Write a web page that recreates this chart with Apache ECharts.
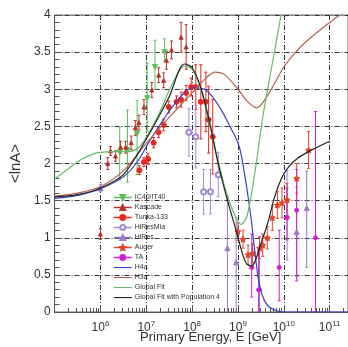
<!DOCTYPE html>
<html><head><meta charset="utf-8">
<script src="https://cdn.jsdelivr.net/npm/echarts@6/dist/echarts.min.js"></script>
<style>html,body{margin:0;padding:0;background:#fff}#c{width:348px;height:347px}</style>
</head><body><div id="c"></div>
<script>
// ---- axis ticks (log10 of energy in GeV) ----
const xTicks = [6, 7, 8, 9, 10, 11];
const yTicks = [0, 0.5, 1, 1.5, 2, 2.5, 3, 3.5, 4];

// ---- model curves: log10(E/GeV) and <lnA> ----
const h4aE = [5.0,5.5,6.0,6.5,6.8,7.1,7.45,7.75,8.0,8.3,8.6,8.85,9.0,9.07,9.19,9.29,9.38,9.47,9.6,9.75,10.0,11.4];
const h4aA = [1.53,1.57,1.66,1.82,2.02,2.33,2.66,2.9,3.02,2.99,2.76,2.47,2.28,2.12,1.68,1.24,0.75,0.36,0.13,0.04,0.0,0.0];
const h3aE = [5.0,5.5,6.0,6.5,7.0,7.5,8.0,8.3,8.5,8.72,9.0,9.2,9.41,9.6,9.8,10.0,10.26,10.5,11.0,11.22];
const h3aA = [1.56,1.6,1.69,1.9,2.27,2.62,2.95,3.15,3.23,3.19,3.0,2.84,2.75,2.87,3.08,3.3,3.5,3.65,3.9,4.0];
const gfE  = [5.0,5.3,5.6,5.85,6.0,6.3,6.6,6.8,7.0,7.3,7.55,7.83,8.0,8.2,8.4,8.55,8.75,8.95,9.07,9.2,9.35,9.54,9.75,9.94];
const gfA  = [1.79,1.93,2.06,2.13,2.15,2.16,2.16,2.2,2.35,2.7,3.05,3.31,3.27,2.98,2.48,2.08,1.6,1.28,1.18,1.3,1.8,2.62,3.35,4.0];
const gf4E = [5.0,5.5,6.0,6.5,7.0,7.5,7.83,8.0,8.2,8.4,8.55,8.75,8.95,9.1,9.2,9.3,9.5,9.65,9.8,9.95,10.1,10.3,10.6,11.0];
const gf4A = [1.55,1.58,1.67,1.85,2.33,2.9,3.34,3.29,3.0,2.5,2.05,1.55,1.12,0.78,0.64,0.62,0.92,1.2,1.55,1.8,1.95,2.07,2.18,2.3];

// ---- measurements: log10(E), <lnA>, error down, error up ----
const icE  = [6.42,6.59,6.8,7.02,7.19,7.4];
const icA  = [2.15,2.18,2.4,2.88,3.3,3.5];
const icLo = [0.37,0.43,0.55,0.45,0.3,0.12];
const icHi = [0.34,0.54,0.45,0.47,0.36,0.18];

const kaE  = [6.0,6.16,6.22,6.33,6.44,6.55,6.67,6.76,6.84,6.95,7.12,7.27,7.38,7.44,7.55,7.76,7.87];
const kaA  = [1.05,2.0,2.17,2.1,2.22,2.22,2.28,2.48,2.55,2.76,2.99,3.19,3.12,3.39,3.53,3.7,3.57];
const kaEr = [0.07,0.08,0.06,0.07,0.08,0.08,0.09,0.1,0.1,0.1,0.1,0.1,0.1,0.12,0.12,0.2,0.3];

const tuE  = [6.85,6.95,7.04,7.16,7.27,7.38,7.49,7.66,7.76,7.87,7.98,8.08,8.19,8.3,8.36,8.45];
const tuA  = [1.91,2.02,2.06,2.28,2.42,2.52,2.76,2.83,2.86,2.95,3.03,3.03,2.83,2.83,2.59,2.36];
const tuEr = [0.06,0.06,0.07,0.07,0.07,0.08,0.08,0.08,0.1,0.1,0.12,0.3,0.5,0.4,0.45,0.5];

const hmE  = [7.93,8.08,8.25,8.4,8.57];
const hmA  = [2.42,2.36,1.62,1.62,1.85];
const hmEr = [0.32,0.42,0.3,0.3,0.3];

const hrE  = [6.0,8.77,8.96,9.47,10.07,10.28,10.5];
const hrA  = [1.67,0.86,0.67,0.32,1.3,1.08,1.4];
const hrLo = [0.05,0.86,0.67,0.32,0.6,0.6,0.8];
const hrHi = [0.05,0.7,0.6,0.7,0.6,0.6,0.5];

const auE  = [9.0,9.11,9.22,9.32,9.47,9.54,9.64,9.75,9.86,9.96,10.07,10.28,10.54];
const auA  = [1.08,0.98,0.77,0.79,0.86,0.9,1.0,1.27,1.44,1.47,1.51,1.8,2.18];
const auEr = [0.12,0.12,0.13,0.13,0.14,0.15,0.15,0.17,0.18,0.2,0.22,0.2,0.25];

const taE  = [9.3,9.45,9.9,10.07,10.28,10.69];
const taA  = [0.6,0.3,0.6,1.27,1.37,1.0];
const taLo = [0.4,0.3,0.45,0.3,0.95,1.0];
const taHi = [0.45,0.5,0.5,0.4,0.55,1.7];

const names = ['IC40/IT40','Kascade','Tunka-133','HiResMia','HiRes','Auger','TA','H4a','H3a','Global Fit','Global Fit with Population 4'];

// ---- build ----
const zip = (a, b) => a.map((v, i) => [v, b[i]]);
const star = 'path://M0,-10 L2.9,-4 9.5,-3.1 4.7,1.5 5.9,8.1 0,5 -5.9,8.1 -4.7,1.5 -9.5,-3.1 -2.9,-4 Z';
const lineIcon = 'path://M0,0 M18,6 M0,2.5 L18,2.5 L18,3.6 L0,3.6 Z';

function pts(name, E, A, color, symbol, size, rot) {
  return { name, type: 'line', data: zip(E, A), symbol, symbolSize: size, symbolRotate: rot || 0,
    showSymbol: true, itemStyle: { color, borderColor: color, borderWidth: 1 }, lineStyle: { opacity: 0, width: 0 },
    z: 4, animation: false, silent: true, clip: true };
}
function errs(E, A, lo, hi, color) {
  return { name: 'err', type: 'custom', z: 3, silent: true, animation: false, clip: true,
    data: E.map((e, i) => [e, A[i] - lo[i], A[i] + hi[i]]),
    encode: { x: 0, y: [1, 2] },
    renderItem(params, api) {
      const x = api.value(0);
      const p1 = api.coord([x, api.value(1)]);
      const p2 = api.coord([x, api.value(2)]);
      const st = { stroke: color, lineWidth: 1 };
      return { type: 'group', children: [
        { type: 'line', shape: { x1: p1[0], y1: p1[1], x2: p2[0], y2: p2[1] }, style: st },
        { type: 'line', shape: { x1: p1[0]-1.5, y1: p1[1], x2: p1[0]+1.5, y2: p1[1] }, style: st },
        { type: 'line', shape: { x1: p2[0]-1.5, y1: p2[1], x2: p2[0]+1.5, y2: p2[1] }, style: st }
      ]};
    } };
}
function curve(name, E, A, color, w) {
  return { name, type: 'line', data: zip(E, A), symbol: 'none', smooth: 0.3,
    lineStyle: { color, width: w || 1.2 }, itemStyle: { color }, z: 5, animation: false, silent: true };
}

const cIC = '#5cbf5c', cKa = '#b8322c', cTu = '#e8261f', cHm = '#a28ad6', cHr = '#9b78cc',
      cAu = '#e0452e', cTA = '#d21ed2', cH4 = '#3a3fc4', cH3 = '#b4604c', cGF = '#66bb66', cG4 = '#222222';

const minorVals = [];
for (let n = 5; n <= 11; n++) for (let k = 2; k <= 9; k++) { const v = n + Math.log10(k); if (v < 11.4) minorVals.push(v); }

const legendData = names.map((n, i) => i >= 7 ? { name: n, icon: lineIcon } : { name: n });

const chart = echarts.init(document.getElementById('c'), null, { renderer: 'canvas' });
chart.setOption({
  animation: false,
  backgroundColor: '#fff',
  grid: { left: 50, top: 15, width: 300, height: 297, show: true, borderColor: '#666', borderWidth: 1, backgroundColor: 'transparent' },
  xAxis: [{
    type: 'value', min: 5, max: 11.4, interval: 1,
    axisLine: { show: true, lineStyle: { color: '#555', width: 1 } },
    axisTick: { show: true, inside: true, length: 7, lineStyle: { color: '#555' } },
    axisLabel: { showMinLabel: false, showMaxLabel: false, margin: 8, color: '#333',
      formatter: v => '{b|10}{s|' + v + '}',
      rich: { b: { fontSize: 12, fontFamily: 'Liberation Sans', color: '#333' },
              s: { fontSize: 8, fontFamily: 'Liberation Sans', color: '#333', verticalAlign: 'top', padding: [0,0,7,0] } } },
    splitLine: { show: true, lineStyle: { color: '#333', type: [5, 2, 1, 2], width: 1 } }
  }, {
    type: 'value', min: 5, max: 11.4, gridIndex: 0, position: 'bottom',
    axisLine: { show: false }, axisLabel: { show: false }, splitLine: { show: false },
    axisTick: { show: true, inside: true, length: 4, customValues: minorVals, lineStyle: { color: '#555' } }
  }],
  yAxis: {
    type: 'value', min: 0, max: 4, interval: 0.5,
    name: '<lnA>', nameLocation: 'middle', nameGap: 27, nameRotate: 90,
    nameTextStyle: { fontSize: 15, color: '#333', fontFamily: 'Liberation Sans' },
    axisLine: { show: true, lineStyle: { color: '#555', width: 1 } },
    axisTick: { show: true, inside: true, length: 7, lineStyle: { color: '#555' } },
    minorTick: { show: true, splitNumber: 5, length: 5, lineStyle: { color: '#555' } },
    axisLabel: { margin: 4, fontSize: 12, color: '#333', fontFamily: 'Liberation Sans' },
    splitLine: { show: true, lineStyle: { color: '#333', type: [5, 2, 1, 2], width: 1 } }
  },
  legend: {
    data: legendData, orient: 'vertical', left: 113, top: 194, itemGap: 3, itemWidth: 18, itemHeight: 6,
    padding: 0, textStyle: { fontSize: 7, color: '#333', fontFamily: 'Liberation Sans', padding: [0,0,0,-2] },
    lineStyle: { width: 1.5, opacity: 1 }, selectedMode: false
  },
  graphic: [{ type: 'text', left: 140, top: 331, style: { text: 'Primary Energy, E [GeV]', fontSize: 13, fill: '#333', fontFamily: 'Liberation Sans' } }],
  series: [
    errs(icE, icA, icLo, icHi, cIC),
    errs(kaE, kaA, kaEr, kaEr, cKa),
    errs(tuE, tuA, tuEr, tuEr, cTu),
    errs(hmE, hmA, hmEr, hmEr, cHm),
    errs(hrE, hrA, hrLo, hrHi, cHr),
    errs(auE, auA, auEr, auEr, cAu),
    errs(taE, taA, taLo, taHi, cTA),
    pts(names[0], icE, icA, cIC, 'triangle', 5, 180),
    pts(names[1], kaE, kaA, cKa, 'triangle', 4),
    pts(names[2], tuE, tuA, cTu, 'circle', 5),
    pts(names[3], hmE, hmA, cHm, 'emptyCircle', 5),
    pts(names[4], hrE, hrA, cHr, 'triangle', 5),
    pts(names[5], auE, auA, cAu, star, 6),
    pts(names[6], taE, taA, cTA, 'circle', 4),
    curve(names[7], h4aE, h4aA, cH4),
    curve(names[8], h3aE, h3aA, cH3),
    curve(names[9], gfE, gfA, cGF),
    curve(names[10], gf4E, gf4A, cG4)
  ]
});
</script></body></html>
